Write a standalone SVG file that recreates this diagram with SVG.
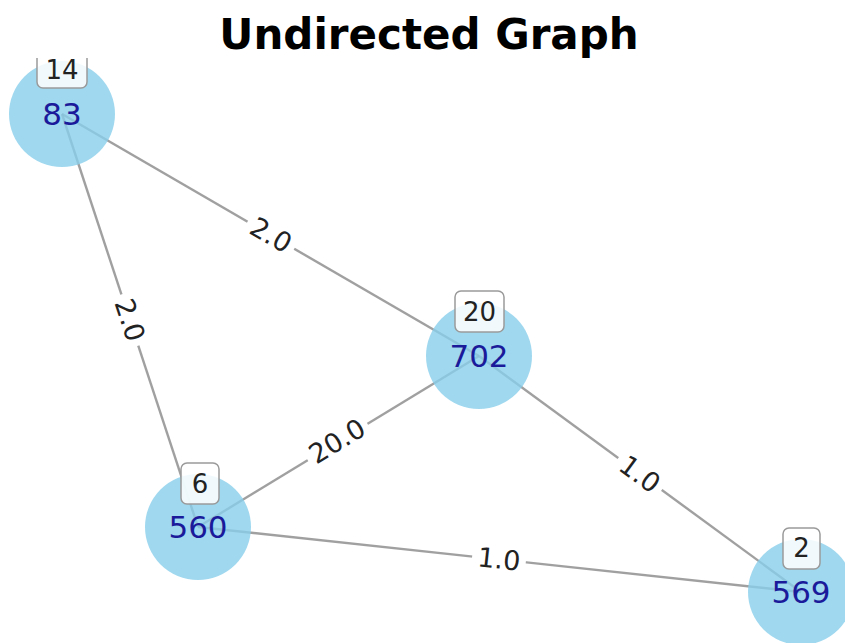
<svg xmlns="http://www.w3.org/2000/svg" width="845" height="643" viewBox="0 0 845 643">
<style>
.edge{stroke:#808080;stroke-width:2.4;stroke-opacity:0.75;fill:none}
.node circle{fill:#87CEEB;fill-opacity:0.8}
.nl{font-family:"DejaVu Sans",sans-serif;font-size:31px;fill:#1a1a9a;text-anchor:middle;dominant-baseline:central}
.box{fill:#ffffff;fill-opacity:0.85;stroke:#9a9a9a;stroke-width:1.5}
.bl{font-family:"DejaVu Sans",sans-serif;font-size:26px;fill:#222;text-anchor:middle;dominant-baseline:central}
.el rect{fill:#fff}
.el text{font-family:"DejaVu Sans",sans-serif;font-size:27px;fill:#222;text-anchor:middle;dominant-baseline:central}
.title{font-family:"DejaVu Sans",sans-serif;font-weight:bold;font-size:42px;fill:#000;text-anchor:middle}
</style>
<defs><clipPath id="ax"><rect x="0" y="58" width="845" height="585"/></clipPath></defs>
<rect width="845" height="643" fill="#fff"/>
<text class="title" x="429" y="49">Undirected Graph</text>
<g clip-path="url(#ax)">
<g id="edges">
<line class="edge" x1="62" y1="114" x2="479" y2="356"/>
<line class="edge" x1="62" y1="114" x2="198" y2="527"/>
<line class="edge" x1="198" y1="527" x2="479" y2="356"/>
<line class="edge" x1="479" y1="356" x2="801" y2="592"/>
<line class="edge" x1="198" y1="527" x2="801" y2="592"/>
<g class="el" transform="translate(271,235) rotate(30.1)"><rect x="-27" y="-15" width="54" height="30"/><text>2.0</text></g>
<g class="el" transform="translate(130,320) rotate(71.8)"><rect x="-27" y="-15" width="54" height="30"/><text>2.0</text></g>
<g class="el" transform="translate(337,441) rotate(-31.3)"><rect x="-35" y="-15" width="70" height="30"/><text>20.0</text></g>
<g class="el" transform="translate(640,474) rotate(36.2)"><rect x="-27" y="-15" width="54" height="30"/><text>1.0</text></g>
<g class="el" transform="translate(499,559) rotate(6.15)"><rect x="-27" y="-15" width="54" height="30"/><text>1.0</text></g>
</g>
<g id="node-83" class="node"><circle cx="62" cy="114" r="53"/><text class="nl" x="62" y="114">83</text><rect class="box" x="37" y="47" width="50" height="41" rx="6"/><text class="bl" x="62" y="70">14</text></g>
<g id="node-702" class="node"><circle cx="479" cy="356" r="53"/><text class="nl" x="479" y="356">702</text><rect class="box" x="455" y="291" width="49" height="41" rx="6"/><text class="bl" x="479.5" y="312">20</text></g>
<g id="node-560" class="node"><circle cx="198" cy="527" r="53"/><text class="nl" x="198" y="527">560</text><rect class="box" x="181" y="463" width="38" height="41" rx="6"/><text class="bl" x="200" y="484">6</text></g>
<g id="node-569" class="node"><circle cx="801" cy="592" r="53"/><text class="nl" x="801" y="592">569</text><rect class="box" x="783" y="528" width="37" height="41" rx="6"/><text class="bl" x="801.5" y="548">2</text></g>
</g>
</svg>
